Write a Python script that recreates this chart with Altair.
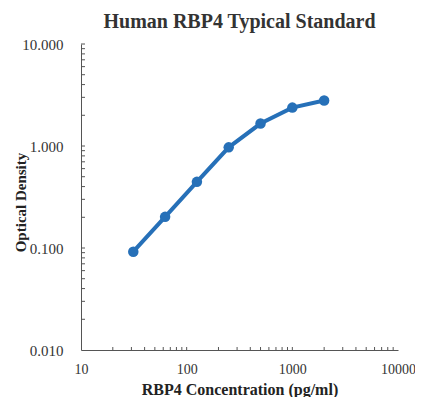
import altair as alt
import pandas as pd

concentration = [31.25, 62.5, 125, 250, 500, 1000, 2000]
optical_density = [0.092, 0.202, 0.445, 0.97, 1.66, 2.38, 2.79]

x_tick_labels = [10, 100, 1000, 10000]
y_tick_labels = [0.01, 0.1, 1, 10]
x_minor_ticks = [20, 30, 40, 50, 60, 70, 80, 90, 100,
                 200, 300, 400, 500, 600, 700, 800, 900, 1000,
                 2000, 3000, 4000, 5000, 6000, 7000, 8000, 9000]
y_minor_ticks = [0.02, 0.03, 0.04, 0.05, 0.06, 0.07, 0.08, 0.09, 0.1,
                 0.2, 0.3, 0.4, 0.5, 0.6, 0.7, 0.8, 0.9, 1,
                 2, 3, 4, 5, 6, 7, 8, 9, 10]

W, H = 317, 306
BLUE = "#2670b8"
SERIF = "Liberation Serif"

df = pd.DataFrame({"conc": concentration, "od": optical_density})
xt = pd.DataFrame({"v": x_minor_ticks})
yt = pd.DataFrame({"v": y_minor_ticks})

xscale = alt.Scale(type="log", domain=[10, 10000])
yscale = alt.Scale(type="log", domain=[0.01, 10])

xaxis = alt.Axis(values=x_tick_labels, format="d", ticks=False, grid=False,
                 domainColor="#555", labelFont=SERIF, labelFontSize=14,
                 labelColor="#333", labelPadding=12, labelFlush=False,
                 title="RBP4 Concentration (pg/ml)", titleFont=SERIF,
                 titleFontSize=16, titleFontWeight="bold", titleColor="#222",
                 titleBaseline="alphabetic", titleY=44)
yaxis = alt.Axis(values=y_tick_labels, format=".3f", ticks=False, grid=False,
                 domainColor="#555", labelFont=SERIF, labelFontSize=15,
                 labelColor="#333", labelPadding=18, labelFlush=False,
                 title="Optical Density", titleFont=SERIF, titleFontSize=15,
                 titleFontWeight="bold", titleColor="#222",
                 titleAngle=270, titleX=-61, titleY=158,
                 titleAlign="center", titleBaseline="middle")

base = alt.Chart(df)
line = base.mark_line(color=BLUE, strokeWidth=4).encode(
    x=alt.X("conc:Q", scale=xscale, axis=xaxis),
    y=alt.Y("od:Q", scale=yscale, axis=yaxis),
)
pts = base.mark_circle(color=BLUE, size=110, opacity=1).encode(
    x=alt.X("conc:Q", scale=xscale),
    y=alt.Y("od:Q", scale=yscale),
)
xticks = alt.Chart(xt).mark_rule(color="#555", strokeWidth=1).encode(
    x=alt.X("v:Q", scale=xscale),
    y=alt.value(H), y2=alt.value(H - 3),
)
yticks = alt.Chart(yt).mark_rule(color="#555", strokeWidth=1).encode(
    y=alt.Y("v:Q", scale=yscale),
    x=alt.value(0), x2=alt.value(4),
)

chart = alt.layer(xticks, yticks, line, pts).properties(
    width=W, height=H,
    title=alt.Title("Human RBP4 Typical Standard", font=SERIF, fontSize=20,
                    fontWeight="bold", color="#333", anchor="middle", offset=5),
    autosize=alt.AutoSizeParams(type="none"),
    padding={"left": 73, "top": 36, "right": 17, "bottom": 47},
).configure_view(stroke=None)

chart.save("out.html", embed_options={"renderer": "svg", "actions": False})
